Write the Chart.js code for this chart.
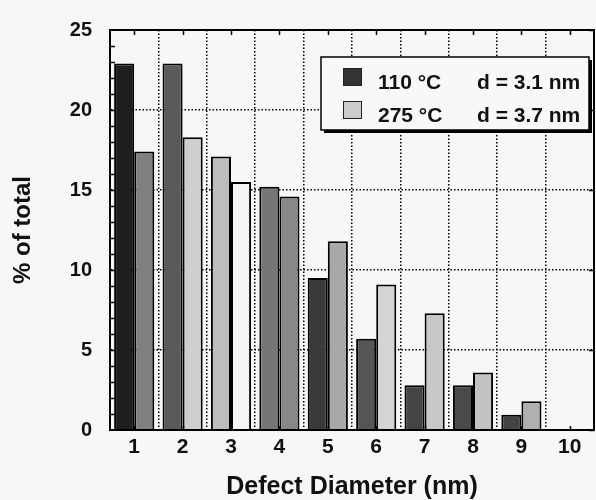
<!DOCTYPE html>
<html>
<head>
<meta charset="utf-8">
<script src="https://cdn.jsdelivr.net/npm/chart.js@4.4.1/dist/chart.umd.min.js"></script>
<style>
  html, body { margin: 0; padding: 0; background: #f7f7f7; }
  #wrap { width: 596px; height: 500px; }
</style>
</head>
<body>
<div id="wrap"><canvas id="defectChart" width="596" height="500"></canvas></div>
<script>
// ---- data ----
const diameters = ['1', '2', '3', '4', '5', '6', '7', '8', '9', '10'];
const pct110 = [22.9, 22.9, 17.1, 15.2, 9.5, 5.7, 2.8, 2.8, 0.95, 0];
const pct275 = [17.4, 18.3, 15.5, 14.6, 11.8, 9.1, 7.3, 3.6, 1.8, 0];
const seriesLabels = ['110 °C', '275 °C'];
const meanDiameters = ['d = 3.1 nm', 'd = 3.7 nm'];
const yTicks = [0, 5, 10, 15, 20, 25];

// scanned halftone greys, one per bar
const fills110 = ['#1e1e1e', '#5a5a5a', '#bdbdbd', '#767676', '#3a3a3a', '#555555', '#444444', '#4a4a4a', '#444444', '#444444'];
const fills275 = ['#808080', '#cfcfcf', '#f4f4f4', '#888888', '#a8a8a8', '#d4d4d4', '#c8c8c8', '#c2c2c2', '#b0b0b0', '#b0b0b0'];
const swatchFills = ['#333333', '#cccccc'];

const FONT = '"Liberation Sans", Arial, Helvetica, sans-serif';

// frame, minor ticks
const framePlugin = {
    id: 'frame',
    afterDatasetsDraw(chart) {
        const { ctx, chartArea: a, scales } = chart;
        const y = scales.y, x = scales.x;
        ctx.save();
        ctx.strokeStyle = '#000';
        ctx.lineWidth = 1.5;
        ctx.beginPath();
        for (let v = 1; v < 25; v++) {
            const py = Math.round(y.getPixelForValue(v)) + 0.5;
            ctx.moveTo(a.left, py);
            ctx.lineTo(a.left + 5, py);
        }
        yTicks.forEach(v => {
            const py = Math.round(y.getPixelForValue(v)) + 0.5;
            ctx.moveTo(a.right, py);
            ctx.lineTo(a.right - 5, py);
        });
        diameters.forEach((d, i) => {
            const px = Math.round(x.getPixelForValue(i)) + 0.5;
            ctx.moveTo(px, a.top);
            ctx.lineTo(px, a.top + 5);
            ctx.moveTo(px, a.bottom);
            ctx.lineTo(px, a.bottom - 4);
        });
        ctx.stroke();
        ctx.lineWidth = 2;
        ctx.strokeRect(a.left, a.top, a.right - a.left, a.bottom - a.top);
        ctx.restore();
    }
};

// boxed legend with drop shadow
const legendBoxPlugin = {
    id: 'legendBox',
    afterDraw(chart) {
        const { ctx } = chart;
        const bx = 321, by = 57, bw = 268, bh = 73;
        ctx.save();
        ctx.fillStyle = '#000';
        ctx.fillRect(bx + 3, by + 3, bw, bh);
        ctx.fillStyle = '#f8f8f8';
        ctx.fillRect(bx, by, bw, bh);
        ctx.strokeStyle = '#000';
        ctx.lineWidth = 1.5;
        ctx.strokeRect(bx, by, bw, bh);

        ctx.font = 'bold 21px ' + FONT;
        ctx.textBaseline = 'alphabetic';
        ctx.textAlign = 'left';
        seriesLabels.forEach((label, i) => {
            const rowY = 89 + i * 33;
            ctx.fillStyle = swatchFills[i];
            ctx.fillRect(343, rowY - 21, 19, 18);
            ctx.strokeStyle = '#222';
            ctx.lineWidth = 1;
            ctx.strokeRect(343.5, rowY - 20.5, 18, 17);
            ctx.fillStyle = '#111';
            ctx.fillText(label, 378, rowY);
            ctx.fillText(meanDiameters[i], 477, rowY);
        });
        ctx.restore();
    }
};

const ctx = document.getElementById('defectChart').getContext('2d');

new Chart(ctx, {
    type: 'bar',
    data: {
        labels: diameters,
        datasets: [{
            label: seriesLabels[0],
            data: pct110,
            backgroundColor: fills110,
            borderColor: '#000',
            borderWidth: 2
        }, {
            label: seriesLabels[1],
            data: pct275,
            backgroundColor: fills275,
            borderColor: '#000',
            borderWidth: 2
        }]
    },
    options: {
        responsive: false,
        animation: false,
        layout: {
            padding: { top: 21, right: 2, left: 0, bottom: 0 }
        },
        datasets: {
            bar: {
                categoryPercentage: 0.83,
                barPercentage: 1
            }
        },
        plugins: {
            legend: { display: false },
            tooltip: { enabled: false }
        },
        scales: {
            x: {
                grid: {
                    color: '#000',
                    lineWidth: 1.5,
                    drawTicks: false,
                    offset: true
                },
                border: { display: true, color: '#000', width: 2, dash: [1.5, 2] },
                ticks: {
                    color: '#111',
                    padding: 5,
                    font: { family: FONT, size: 21, weight: 'bold' }
                },
                title: {
                    display: true,
                    text: 'Defect Diameter (nm)',
                    color: '#111',
                    padding: { top: 0, bottom: 0 },
                    font: { family: FONT, size: 25, weight: 'bold', lineHeight: 1 }
                },
                afterFit(scale) { scale.height = 70; }
            },
            y: {
                min: 0,
                max: 25,
                afterBuildTicks(scale) {
                    scale.ticks = yTicks.map(v => ({ value: v }));
                },
                grid: {
                    color: '#000',
                    lineWidth: 1.5,
                    drawTicks: false
                },
                border: { display: true, color: '#000', width: 2, dash: [1.5, 2] },
                ticks: {
                    color: '#111',
                    padding: 18,
                    font: { family: FONT, size: 20, weight: 'bold' }
                },
                title: {
                    display: true,
                    text: '% of total',
                    color: '#111',
                    padding: { top: 11, bottom: 0 },
                    font: { family: FONT, size: 24, weight: 'bold', lineHeight: 1 }
                },
                afterFit(scale) { scale.width = 110; }
            }
        }
    },
    plugins: [framePlugin, legendBoxPlugin]
});
</script>
</body>
</html>
